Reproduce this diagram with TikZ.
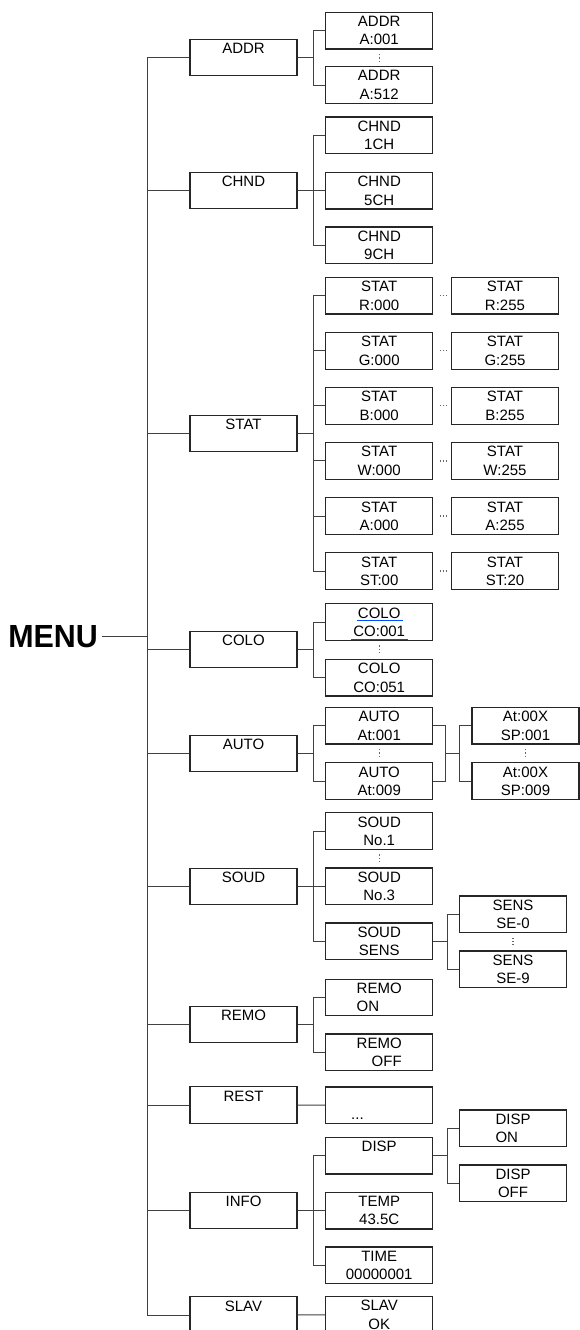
\documentclass[tikz,border=0pt]{standalone}
\usepackage{fontspec}
\setmainfont{Liberation Sans}
\newcommand{\topline}[1]{#1\\\phantom{A}}
\begin{document}
\begin{tikzpicture}[x=1pt, y=-1pt,
  box/.style={draw=black!85, line width=1.2pt, rectangle, minimum width=107pt, minimum height=36.7pt, inner sep=0pt, align=center, font=\fontsize{15}{18.3}\selectfont},
  link/.style={draw=black!75, line width=1pt},
  vdots/.style={draw=black!60, line width=1.2pt, dash pattern=on 1.2pt off 2pt, shorten <=4.5pt, shorten >=4.5pt},
  hdots/.style={draw=black!60, line width=1.3pt, dash pattern=on 1.3pt off 1.8pt, shorten <=6.3pt, shorten >=4pt},
  squig/.style={draw=blue!70!cyan, line width=0.8pt}]
\useasboundingbox (0,0) rectangle (579,1330);
\node[font=\fontsize{32}{32}\selectfont\bfseries, inner sep=0pt, anchor=east, xscale=0.95] (menu) at (98,636.7) {MENU};
\coordinate (trunk) at (147.6,636.7);
% first level
\node[box] (addr) at (243.5,57.5) {\topline{ADDR}};
\node[box] (chnd) at (243.5,190.5) {\topline{CHND}};
\node[box] (stat) at (243.5,433.5) {\topline{STAT}};
\node[box] (colo) at (243.5,649.5) {\topline{COLO}};
\node[box] (auto) at (243.5,753.5) {\topline{AUTO}};
\node[box] (soud) at (243.5,886.5) {\topline{SOUD}};
\node[box] (remo) at (243.5,1024.5) {\topline{REMO}};
\node[box] (rest) at (243.5,1105) {\topline{REST}};
\node[box] (info) at (243.5,1210.5) {\topline{INFO}};
\node[box] (slav) at (243.5,1315) {\topline{SLAV}};
% second level
\node[box] (addr1) at (379.2,30.7) {ADDR\\A:001};
\node[box] (addr512) at (379.2,85) {ADDR\\A:512};
\node[box] (chnd1) at (379.2,135.3) {CHND\\1CH};
\node[box] (chnd5) at (379.2,190.7) {CHND\\5CH};
\node[box] (chnd9) at (379.2,245.3) {CHND\\9CH};
\node[box] (statr) at (379.2,295.7) {STAT\\R:000};
\node[box] (statg) at (379.2,350.8) {STAT\\G:000};
\node[box] (statb) at (379.2,405.8) {STAT\\B:000};
\node[box] (statw) at (379.2,460.9) {STAT\\W:000};
\node[box] (stata) at (379.2,516) {STAT\\A:000};
\node[box] (statst) at (379.2,571) {STAT\\ST:00};
\node[box] (colo1) at (379.2,622) {COLO\\CO:001};
\node[box] (colo51) at (379.2,677.7) {COLO\\CO:051};
\node[box] (auto1) at (379.2,725.7) {AUTO\\At:001};
\node[box] (auto9) at (379.2,781) {AUTO\\At:009};
\node[box] (soud1) at (379.2,831) {SOUD\\No.1};
\node[box] (soud3) at (379.2,886.3) {SOUD\\No.3};
\node[box] (souds) at (379.2,941.3) {SOUD\\SENS};
\node[box, align=left] (remoon) at (379.2,997.5) {REMO\\ON};
\node[box, align=right] (remooff) at (379.2,1052.3) {REMO\\OFF};
\node[box] (restx) at (379.2,1105.3) {\phantom{A}\\\makebox[56pt][l]{...}};
\node[box] (disp) at (379.2,1155.7) {\topline{DISP}};
\node[box] (temp) at (379.2,1210.7) {TEMP\\43.5C};
\node[box] (time) at (379.2,1265.3) {TIME\\00000001};
\node[box] (slavok) at (379.2,1314.7) {SLAV\\OK};
% third level
\node[box] (statrx) at (505,295.7) {STAT\\R:255};
\node[box] (statgx) at (505,350.8) {STAT\\G:255};
\node[box] (statbx) at (505,405.8) {STAT\\B:255};
\node[box] (statwx) at (505,460.9) {STAT\\W:255};
\node[box] (statax) at (505,516) {STAT\\A:255};
\node[box] (statstx) at (505,571) {STAT\\ST:20};
\node[box] (speed1) at (525.5,725.7) {At:00X\\SP:001};
\node[box] (speed9) at (525.5,781) {At:00X\\SP:009};
\node[box] (sens0) at (513,914.3) {SENS\\SE-0};
\node[box] (sens9) at (513,969.3) {SENS\\SE-9};
\node[box, align=left] (dispon) at (513,1128.3) {DISP\\ON};
\node[box] (dispoff) at (513,1183.3) {DISP\\OFF};
\coordinate (autoj) at (445.8,753.3);
% connectors
\draw[link, shorten <=3.7pt] (menu) -- (trunk);
\draw[link] (trunk) |- (addr.west) (trunk) |- (chnd.west) (trunk) |- (stat.west) (trunk) |- (colo.west) (trunk) |- (auto.west);
\draw[link] (trunk) |- (soud.west) (trunk) |- (remo.west) (trunk) |- (rest.west) (trunk) |- (info.west) (trunk) |- (slav.west);
\draw[link] (addr.east) -- ++(15.7,0) |- (addr1.west) (addr.east) -- ++(15.7,0) |- (addr512.west);
\draw[link] (chnd.east) -- ++(15.7,0) |- (chnd1.west) (chnd.east) -- ++(15.7,0) |- (chnd5.west) (chnd.east) -- ++(15.7,0) |- (chnd9.west);
\draw[link] (stat.east) -- ++(15.7,0) |- (statr.west) (stat.east) -- ++(15.7,0) |- (statg.west) (stat.east) -- ++(15.7,0) |- (statb.west);
\draw[link] (stat.east) -- ++(15.7,0) |- (statw.west) (stat.east) -- ++(15.7,0) |- (stata.west) (stat.east) -- ++(15.7,0) |- (statst.west);
\draw[link] (colo.east) -- ++(15.7,0) |- (colo1.west) (colo.east) -- ++(15.7,0) |- (colo51.west);
\draw[link] (auto.east) -- ++(15.7,0) |- (auto1.west) (auto.east) -- ++(15.7,0) |- (auto9.west);
\draw[link] (soud.east) -- ++(15.7,0) |- (soud1.west) (soud.east) -- ++(15.7,0) |- (soud3.west) (soud.east) -- ++(15.7,0) |- (souds.west);
\draw[link] (remo.east) -- ++(15.7,0) |- (remoon.west) (remo.east) -- ++(15.7,0) |- (remooff.west);
\draw[link] (rest) -- (restx) (slav) -- (slavok);
\draw[link] (info.east) -- ++(15.7,0) |- (disp.west) (info.east) -- ++(15.7,0) |- (temp.west) (info.east) -- ++(15.7,0) |- (time.west);
\draw[link] (auto1.east) -| (autoj) (auto9.east) -| (autoj) (autoj) -- ++(13.6,0) |- (speed1.west) (autoj) -- ++(13.6,0) |- (speed9.west);
\draw[link] (souds.east) -- ++(13.8,0) |- (sens0.west) (souds.east) -- ++(13.8,0) |- (sens9.west);
\draw[link] (disp.east) -- ++(13.8,0) |- (dispon.west) (disp.east) -- ++(13.8,0) |- (dispoff.west);
% dots
\draw[vdots] (addr1) -- (addr512);
\draw[vdots] (colo1) -- (colo51);
\draw[vdots] (auto1) -- (auto9);
\draw[vdots] (speed1) -- (speed9);
\draw[vdots] (soud1) -- (soud3);
\draw[vdots] (sens0) -- (sens9);
\draw[hdots] (statr) -- (statrx);
\draw[hdots] (statg) -- (statgx);
\draw[hdots] (statb) -- (statbx);
\draw[hdots] (statw) -- (statwx);
\draw[hdots] (stata) -- (statax);
\draw[hdots] (statst) -- (statstx);
% underlines
\draw[squig] ([shift={(-22.5,-1.3)}]colo1.center) -- ++(46.5,0);
\draw[squig] ([shift={(-28,17)}]colo1.center) -- ++(57,0);
\end{tikzpicture}
\end{document}
